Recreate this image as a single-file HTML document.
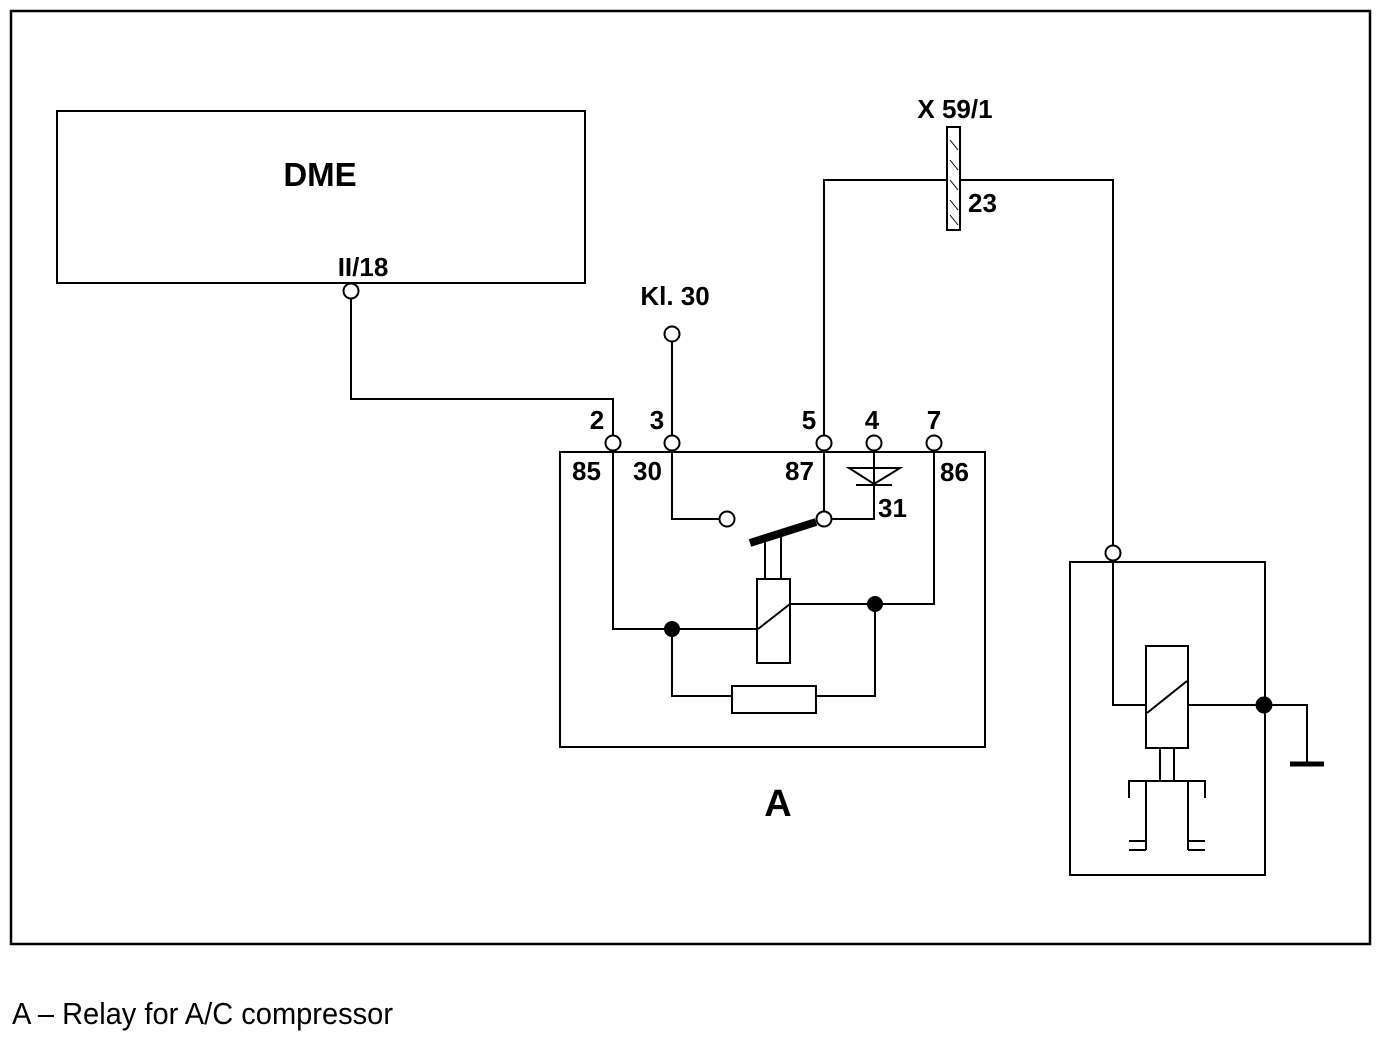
<!DOCTYPE html>
<html><head><meta charset="utf-8"><style>body{margin:0;background:#fff}svg{display:block}text{font-family:"Liberation Sans",sans-serif;fill:#000}</style></head>
<body>
<svg width="1383" height="1053" viewBox="0 0 1383 1053" xmlns="http://www.w3.org/2000/svg">
<g fill="none" stroke="#000" stroke-width="2">
<rect x="11" y="11" width="1359" height="933" stroke-width="2.5"/>
<rect x="57" y="111" width="528" height="172"/>
<rect x="560" y="452" width="425" height="295"/>
<rect x="1070" y="562" width="195" height="313"/>
<!-- DME wire -->
<polyline points="351,299 351,399 613,399 613,435"/>
<line x1="672" y1="342" x2="672" y2="435"/>
<polyline points="824,435 824,180 1113,180 1113,545"/>
<!-- relay internals -->
<polyline points="613,451 613,629 757,629"/>
<polyline points="672,629 672,696 732,696"/>
<rect x="732" y="686" width="84" height="27"/>
<polyline points="816,696 875,696 875,604"/>
<rect x="757" y="579" width="33" height="84"/>
<line x1="758" y1="629" x2="790" y2="604"/>
<polyline points="790,604 934,604 934,451"/>
<polyline points="672,451 672,519 719,519"/>
<line x1="824" y1="451" x2="824" y2="511"/>
<polyline points="832,519 874,519 874,451"/>
<polygon points="849,468 900,468 874,484"/>
<line x1="856" y1="485" x2="892" y2="485"/>
<line x1="765" y1="540" x2="765" y2="579"/>
<line x1="781" y1="536" x2="781" y2="579"/>
<line x1="750" y1="543" x2="816" y2="522" stroke-width="8"/>
<!-- right unit -->
<polyline points="1113,561 1113,705 1146,705"/>
<rect x="1146" y="646" width="42" height="102"/>
<line x1="1147" y1="713" x2="1187" y2="681"/>
<polyline points="1188,705 1307,705 1307,764"/>
<line x1="1160" y1="748" x2="1160" y2="781"/>
<line x1="1174" y1="748" x2="1174" y2="781"/>
<polyline points="1129,798 1129,781 1205,781 1205,798"/>
<line x1="1146" y1="781" x2="1146" y2="850"/>
<line x1="1188" y1="781" x2="1188" y2="850"/>
<line x1="1129" y1="841" x2="1146" y2="841"/><line x1="1129" y1="850" x2="1146" y2="850"/>
<line x1="1188" y1="841" x2="1205" y2="841"/><line x1="1188" y1="850" x2="1205" y2="850"/>
<line x1="1290" y1="764" x2="1324" y2="764" stroke-width="5"/>
<!-- connector -->
<rect x="947" y="127" width="13" height="103" fill="#fff"/>
<g stroke-width="1"><line x1="950" y1="140" x2="958" y2="150"/><line x1="950" y1="160" x2="958" y2="170"/><line x1="950" y1="180" x2="958" y2="190"/><line x1="950" y1="200" x2="958" y2="210"/><line x1="950" y1="215" x2="958" y2="225"/></g>
</g>
<g fill="#fff" stroke="#000" stroke-width="2">
<circle cx="351" cy="291" r="7.5"/><circle cx="672" cy="334" r="7.5"/>
<circle cx="613" cy="443" r="7.5"/><circle cx="672" cy="443" r="7.5"/><circle cx="824" cy="443" r="7.5"/><circle cx="874" cy="443" r="7.5"/><circle cx="934" cy="443" r="7.5"/>
<circle cx="727" cy="519" r="7.5"/><circle cx="824" cy="519" r="7.5"/>
<circle cx="1113" cy="553" r="7.5"/>
</g>
<g fill="#000"><circle cx="672" cy="629" r="8"/><circle cx="875" cy="604" r="8"/><circle cx="1264" cy="705" r="8.5"/></g>
<g font-weight="bold" font-size="26">
<text x="320" y="186" font-size="33" text-anchor="middle">DME</text>
<text x="363" y="276" text-anchor="middle">II/18</text>
<text x="675" y="305" text-anchor="middle">Kl. 30</text>
<text x="955" y="118" text-anchor="middle">X 59/1</text>
<text x="968" y="212">23</text>
<text x="597" y="429" text-anchor="middle">2</text>
<text x="657" y="429" text-anchor="middle">3</text>
<text x="809" y="429" text-anchor="middle">5</text>
<text x="872" y="429" text-anchor="middle">4</text>
<text x="934" y="429" text-anchor="middle">7</text>
<text x="572" y="480">85</text>
<text x="633" y="480">30</text>
<text x="785" y="480">87</text>
<text x="940" y="481">86</text>
<text x="878" y="517">31</text>
<text x="778" y="816" font-size="38" text-anchor="middle">A</text>
</g>
<text x="12" y="1024" font-size="31" textLength="381" lengthAdjust="spacingAndGlyphs">A – Relay for A/C compressor</text>
</svg>
</body></html>
